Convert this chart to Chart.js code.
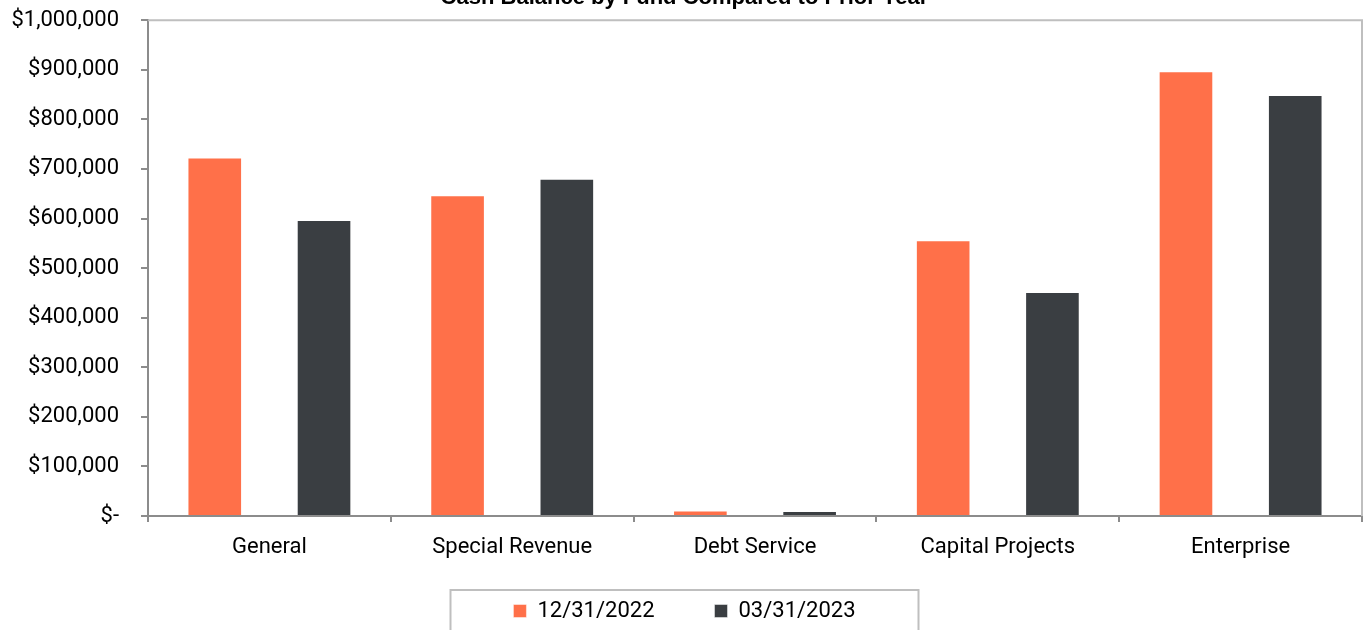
<!DOCTYPE html>
<html>
<head>
<meta charset="utf-8">
<title>Cash Balance by Fund Compared to Prior Year</title>
<script src="https://cdn.jsdelivr.net/npm/chart.js@4/dist/chart.umd.min.js"></script>
<style>
  html, body { margin: 0; padding: 0; background: #fff; overflow: hidden; }
  #wrap { position: absolute; left: 0; top: -15px; width: 1364px; height: 647px; }
</style>
</head>
<body>
<div id="wrap"><canvas id="myChart"></canvas></div>
<script>
// Data
const funds = ["General", "Special Revenue", "Debt Service", "Capital Projects", "Enterprise"];
const seriesNames = ["12/31/2022", "03/31/2023"];
const balance2022 = [723000, 647000, 11000, 556000, 897000];
const balance2023 = [597000, 680000, 10000, 452000, 849000];
const yTicks = [0, 100000, 200000, 300000, 400000, 500000, 600000, 700000, 800000, 900000, 1000000];

const ORANGE = "#ff7049";
const DARK = "#3a3e42";
const AXIS = "#8c8c8c";
const FRAME = "#bfbfbf";

function money(value) {
  if (value === 0) return "$-";
  return "$" + value.toLocaleString("en-US");
}

const ctx = document.getElementById("myChart");

const chart = new Chart(ctx, {
  type: "bar",
  data: {
    labels: funds,
    datasets: [
      {
        label: seriesNames[0],
        data: balance2022,
        backgroundColor: ORANGE,
        borderColor: "rgba(255,255,255,0.45)",
        borderWidth: 1,
        categoryPercentage: 0.9,
        barPercentage: 0.5,
      },
      {
        label: seriesNames[1],
        data: balance2023,
        backgroundColor: DARK,
        borderColor: "rgba(255,255,255,0.45)",
        borderWidth: 1,
        categoryPercentage: 0.9,
        barPercentage: 0.5,
      },
    ],
  },
  options: {
    responsive: true,
    maintainAspectRatio: false,
    animation: false,
    layout: { padding: { left: 7, right: 2, top: 0, bottom: 0 } },
    scales: {
      x: {
        grid: {
          offset: true,
          drawOnChartArea: false,
          drawTicks: true,
          tickLength: 6,
          color: AXIS,
          lineWidth: 2,
        },
        border: { display: true, color: AXIS, width: 2 },
        ticks: {
          padding: 12,
          color: "#000",
          font: { family: "Roboto", size: 22 },
          maxRotation: 0,
        },
        afterFit(scale) {
          // keep the axis box short so the legend sits where it does in the original
          scale.height = 24;
        },
      },
      y: {
        min: 0,
        max: 1000000,
        afterBuildTicks(scale) {
          scale.ticks = yTicks.map((v) => ({ value: v }));
        },
        grid: {
          drawOnChartArea: false,
          drawTicks: true,
          tickLength: 7,
          color: AXIS,
          lineWidth: 2,
        },
        border: { display: true, color: AXIS, width: 2 },
        ticks: {
          padding: 22,
          color: "#000",
          font: { family: "Roboto", size: 22 },
          callback: (value) => money(value),
        },
        afterFit(scale) {
          scale.width = 141;
        },
      },
    },
    plugins: {
      title: {
        display: true,
        text: "Cash Balance by Fund Compared to Prior Year",
        color: "#000",
        font: { family: "Liberation Sans", size: 22, weight: "bold" },
        padding: { top: 0, bottom: 8.6 },
      },
      legend: {
        display: true,
        position: "bottom",
        labels: {
          boxWidth: 13,
          boxHeight: 13,
          padding: 60,
          color: "#000",
          font: { family: "Roboto", size: 22 },
        },
      },
      tooltip: { enabled: false },
    },
  },
  plugins: [
    {
      id: "x_label_room",
      afterLayout(chart) {
        // labels are clipped to the scale box; give them room below the short axis
        const x = chart.scales.x;
        x.bottom = x.top + 60;
        x.height = 60;
      },
    },
    {
      id: "plot_frame",
      beforeDatasetsDraw(chart) {
        const { ctx, chartArea } = chart;
        // light frame on the top and right of the plot area
        ctx.save();
        ctx.strokeStyle = FRAME;
        ctx.lineWidth = 2;
        ctx.beginPath();
        ctx.moveTo(chartArea.left, chartArea.top);
        ctx.lineTo(chartArea.right, chartArea.top);
        ctx.lineTo(chartArea.right, chartArea.bottom);
        ctx.stroke();
        ctx.restore();
      },
    },
    {
      id: "legend_frame",
      afterDraw(chart) {
        const legend = chart.legend;
        if (!legend || !legend.legendHitBoxes.length) return;
        const { ctx } = chart;
        const box = legend.legendHitBoxes[0];
        const cy = box.top + box.height / 2;
        const cx = (legend.left + legend.right) / 2;
        ctx.save();
        ctx.strokeStyle = FRAME;
        ctx.lineWidth = 2;
        ctx.strokeRect(cx - 234, cy - 21, 468, 60);
        ctx.restore();
      },
    },
  ],
});
</script>
</body>
</html>
